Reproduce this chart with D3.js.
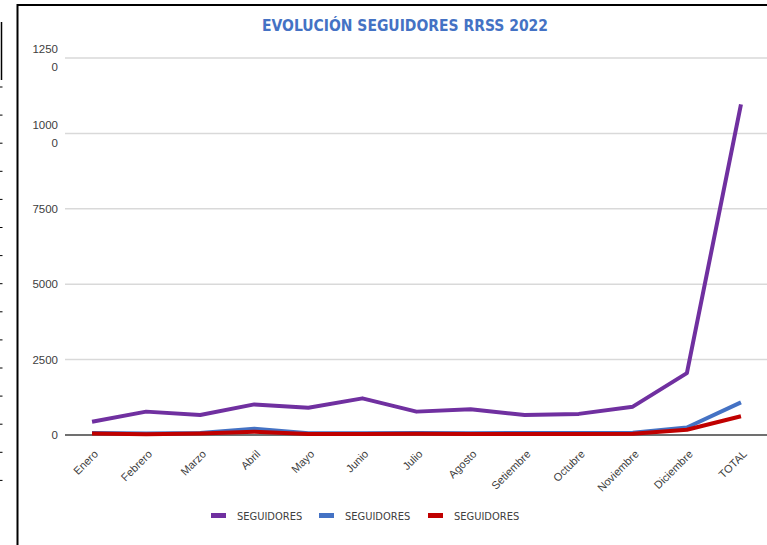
<!DOCTYPE html>
<html>
<head>
<meta charset="utf-8">
<script src="https://cdn.jsdelivr.net/npm/d3@7"></script>
<style>
  body { margin: 0; background: #fff; }
  svg { display: block; font-family: 'Liberation Sans Narrow', 'DejaVu Sans Condensed', Arial, sans-serif; }
</style>
</head>
<body>
<div id="chart"></div>
<script>
// data
var months = ["Enero", "Febrero", "Marzo", "Abril", "Mayo", "Junio", "Julio",
    "Agosto", "Setiembre", "Octubre", "Noviembre", "Diciembre", "TOTAL"];
var purpleVals = [440, 775, 665, 1015, 905, 1215, 775, 850, 665, 700, 940, 2050, 10960];
var blueVals = [70, 50, 65, 210, 60, 55, 65, 60, 70, 65, 75, 250, 1080];
var redVals = [50, 25, 50, 110, 30, 30, 40, 35, 30, 30, 40, 175, 620];
var yTicks = [0, 2500, 5000, 7500, 10000, 12500];
var seriesNames = ["SEGUIDORES", "SEGUIDORES", "SEGUIDORES"];
var colors = ["#7030A0", "#4472C4", "#C00000"];

var W = 767, H = 545;
var svg = d3.select("#chart").append("svg")
    .attr("width", W)
    .attr("height", H);

// outer frame (top + left borders) and the leftover edge of a neighbouring chart
svg.append("path")
    .attr("d", "M17.5,545 V5 H767")
    .attr("fill", "none")
    .attr("stroke", "#000")
    .attr("stroke-width", 2);
svg.append("line")
    .attr("x1", 1.5).attr("x2", 1.5).attr("y1", 22).attr("y2", 80)
    .attr("stroke", "#000").attr("stroke-width", 1.5);
d3.range(87, 485, 28.1).forEach(function (yy) {
    svg.append("line")
        .attr("x1", 0).attr("x2", 2.5).attr("y1", yy).attr("y2", yy)
        .attr("stroke", "#000").attr("stroke-width", 1);
});

// title
svg.append("text")
    .attr("x", 405)
    .attr("y", 31)
    .attr("text-anchor", "middle")
    .attr("fill", "#4472C4")
    .attr("font-weight", "bold")
    .attr("font-size", "15.5px")
    .text("EVOLUCIÓN SEGUIDORES RRSS 2022");

var x = d3.scaleBand()
    .domain(months)
    .range([65, 768]);

var y = d3.scaleLinear()
    .domain([0, 12500])
    .range([435, 58]);

// gridlines
svg.append("g")
    .selectAll("line")
    .data(yTicks.filter(function (d) { return d > 0; }))
    .enter().append("line")
    .attr("x1", 65).attr("x2", 767)
    .attr("y1", function (d) { return y(d); })
    .attr("y2", function (d) { return y(d); })
    .attr("stroke", "#D9D9D9")
    .attr("stroke-width", 1.5);

// y axis
var yAxisGroup = svg.append("g")
    .attr("transform", "translate(65,0)")
    .call(d3.axisLeft(y).tickValues(yTicks).tickSize(0).tickPadding(7).tickFormat(function (d) { return d; }));
yAxisGroup.select(".domain").remove();
yAxisGroup.selectAll("text")
    .attr("fill", "#404040")
    .attr("font-size", "11.5px")
    .attr("font-family", null)
    .each(function (d) {
        var s = String(d);
        if (s.length > 4) {
            var t = d3.select(this).text(null).attr("dy", null);
            t.append("tspan").attr("x", -7).attr("dy", "-0.45em").text(s.slice(0, 4));
            t.append("tspan").attr("x", -7).attr("dy", "18").text(s.slice(4));
        }
    });

// x axis
var xAxisGroup = svg.append("g")
    .attr("transform", "translate(0,435)")
    .call(d3.axisBottom(x).tickSize(0).tickPadding(0));
xAxisGroup.select(".domain")
    .attr("d", "M65,0H767")
    .attr("stroke", "#404040")
    .attr("stroke-width", 1.5);
xAxisGroup.selectAll("text")
    .attr("fill", "#404040")
    .attr("font-size", "11px")
    .attr("font-family", null)
    .attr("text-anchor", "end")
    .attr("y", 0)
    .attr("dy", "0.35em")
    .attr("transform", "translate(4,17) rotate(-45)");

// lines
var line = d3.line()
    .x(function (d, i) { return x(months[i]) + x.bandwidth() / 2; })
    .y(function (d) { return y(d); });

[purpleVals, blueVals, redVals].forEach(function (vals, k) {
    svg.append("path")
        .datum(vals)
        .attr("fill", "none")
        .attr("stroke", colors[k])
        .attr("stroke-width", 4)
        .attr("stroke-linejoin", "round")
        .attr("d", line);
});

// legend
var legendX = [211, 319, 428];
var legend = svg.append("g");
seriesNames.forEach(function (name, k) {
    legend.append("rect")
        .attr("x", legendX[k])
        .attr("y", 513)
        .attr("width", 15)
        .attr("height", 5)
        .attr("fill", colors[k]);
    legend.append("text")
        .attr("x", legendX[k] + 26)
        .attr("y", 516)
        .attr("dy", "0.35em")
        .attr("font-size", "11px")
        .attr("fill", "#404040")
        .text(name);
});
</script>
</body>
</html>
